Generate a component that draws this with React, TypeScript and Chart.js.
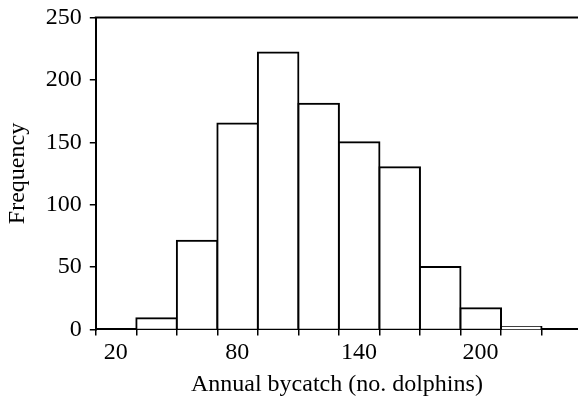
import React, { useEffect, useRef } from "react";
import { Chart, registerables } from "chart.js";

Chart.register(...registerables);

// Histogram bins (centre of each 20-dolphin bin) and their frequencies
const binCenters = [20, 40, 60, 80, 100, 120, 140, 160, 180, 200, 220];
const frequencies = [0, 9, 71, 165, 222, 181, 150, 130, 50, 17, 2];
// Bin edges where tick marks are drawn
const binEdges = [10, 30, 50, 70, 90, 110, 130, 150, 170, 190, 210, 230];
// Bins whose centre carries a label
const xTickLabels = [20, 80, 140, 200];
const yAxisMax = 250;
const yStep = 50;

const FONT = "'Liberation Serif', 'Times New Roman', Times, serif";

const topFrame = {
  id: "topFrame",
  afterDraw(chart: any) {
    const { ctx, chartArea } = chart;
    ctx.save();
    ctx.strokeStyle = "#000";
    ctx.lineWidth = 2;
    ctx.beginPath();
    ctx.moveTo(chartArea.left - 1, chartArea.top);
    ctx.lineTo(chartArea.right, chartArea.top);
    ctx.stroke();
    ctx.restore();
  },
};

export default function App() {
  const ref = useRef<HTMLCanvasElement | null>(null);

  useEffect(() => {
    if (!ref.current) return;
    const chart = new Chart(ref.current, {
      type: "bar",
      data: {
        datasets: [
          {
            data: binCenters.map((x, i) => ({ x, y: frequencies[i] })),
            backgroundColor: "#ffffff",
            borderColor: "#000000",
            borderWidth: 2,
            borderSkipped: "start",
            inflateAmount: 1,
            barPercentage: 1,
            categoryPercentage: 1,
          },
        ],
      },
      options: {
        responsive: false,
        animation: false,
        layout: { padding: { left: 0, right: 0, top: 17, bottom: 0 } },
        plugins: {
          legend: { display: false },
          tooltip: { enabled: false },
        },
        scales: {
          x: {
            type: "linear",
            offset: false,
            z: 1,
            min: 10,
            max: 248,
            afterBuildTicks: (scale: any) => {
              scale.ticks = binEdges.map((v) => ({ value: v }));
            },
            ticks: {
              autoSkip: false,
              maxRotation: 0,
              labelOffset: 20,
              padding: 3,
              color: "#000",
              font: { family: FONT, size: 24 },
              callback: (v: any) =>
                xTickLabels.includes(Number(v) + 10) ? String(Number(v) + 10) : "",
            },
            grid: {
              display: true,
              offset: false,
              drawOnChartArea: false,
              drawTicks: true,
              tickLength: 6,
              color: "#000",
              lineWidth: 1.5,
            },
            border: { display: true, color: "#000", width: 2 },
            title: {
              display: true,
              text: "Annual bycatch (no. dolphins)",
              color: "#000",
              font: { family: FONT, size: 24 },
              padding: { top: 0, bottom: 0 },
            },
          },
          y: {
            min: 0,
            max: yAxisMax,
            ticks: {
              stepSize: yStep,
              padding: 8,
              color: "#000",
              font: { family: FONT, size: 24, lineHeight: 0.8 },
            },
            grid: {
              display: true,
              drawOnChartArea: false,
              drawTicks: true,
              tickLength: 6,
              color: "#000",
              lineWidth: 1.5,
            },
            border: { display: true, color: "#000", width: 2 },
            title: {
              display: true,
              text: "Frequency",
              color: "#000",
              font: { family: FONT, size: 24 },
              padding: { top: 3, bottom: 6 },
            },
          },
        },
      },
      plugins: [topFrame],
    } as any);
    return () => chart.destroy();
  }, []);

  return (
    <div style={{ position: "absolute", left: 0, top: 0, width: 578, height: 399, background: "#fff" }}>
      <canvas ref={ref} width={578} height={399} style={{ display: "block" }} />
    </div>
  );
}
